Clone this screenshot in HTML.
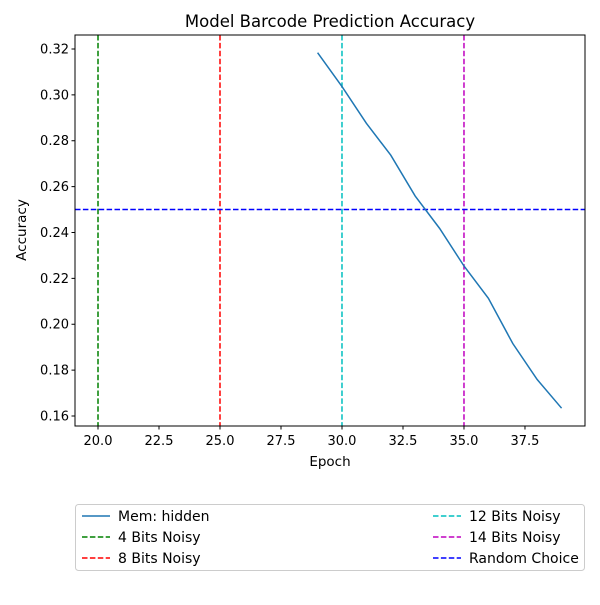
<!DOCTYPE html>
<html><head><meta charset="utf-8"><style>body{margin:0;background:#fff}svg{font-family:"DejaVu Sans","Liberation Sans",sans-serif}</style></head>
<body>
<svg id="chart" width="600" height="600" xmlns="http://www.w3.org/2000/svg"></svg>
<script>
const epochs=[29,30,31,32,33,34,35,36,37,38,39];
const accuracy=[0.3184,0.3036,0.2876,0.2737,0.2559,0.2418,0.2254,0.2113,0.1916,0.1759,0.1634];
const vlineX=[20,25,30,35];
const vlineColors=['#008000','#ff0000','#00bfbf','#bf00bf'];
const hlineY=0.25;
const xTicks=[20.0,22.5,25.0,27.5,30.0,32.5,35.0,37.5];
const yTicks=[0.16,0.18,0.20,0.22,0.24,0.26,0.28,0.30,0.32];
const legendLabels=['Mem: hidden','4 Bits Noisy','8 Bits Noisy','12 Bits Noisy','14 Bits Noisy','Random Choice'];
const legendColors=['#1f77b4','#008000','#ff0000','#00bfbf','#bf00bf','#0000ff'];

const L=75,R=585,T=35,B=426;
const xmin=19.057,xmax=39.96,ymin=0.15564,ymax=0.3261;
const sx=v=>L+(v-xmin)/(xmax-xmin)*(R-L);
const sy=v=>B-(v-ymin)/(ymax-ymin)*(B-T);
const svg=document.getElementById('chart');
const NS='http://www.w3.org/2000/svg';
function mk(tag,attrs,parent){const e=document.createElementNS(NS,tag);for(const k in attrs)e.setAttribute(k,attrs[k]);(parent||svg).appendChild(e);return e;}

mk('text',{x:330,y:27,'text-anchor':'middle','font-size':16.5,fill:'#000',}).textContent='Model Barcode Prediction Accuracy';

vlineX.forEach((v,i)=>{const l=mk('line',{x1:sx(v),x2:sx(v),y1:T,y2:B,stroke:vlineColors[i],'stroke-width':1.5,'stroke-dasharray':'5.5,2.4'});

});
const h=mk('line',{x1:L,x2:R,y1:sy(hlineY),y2:sy(hlineY),stroke:'#0000ff','stroke-width':1.5,'stroke-dasharray':'5.5,2.4'});



const p=mk('polyline',{points:epochs.map((e,i)=>sx(e)+','+sy(accuracy[i])).join(' '),fill:'none',stroke:'#1f77b4','stroke-width':1.5});



mk('rect',{x:L,y:T,width:R-L,height:B-T,fill:'none',stroke:'#000','stroke-width':1,});

xTicks.forEach(v=>{const x=sx(v);mk('line',{x1:x,x2:x,y1:B,y2:B+3.5,stroke:'#000'});
const t=mk('text',{x:x,y:B+19,'text-anchor':'middle','font-size':13,fill:'#000'});t.textContent=v.toFixed(1);

});
yTicks.forEach(v=>{const y=sy(v);mk('line',{x1:L-3.5,x2:L,y1:y,y2:y,stroke:'#000'});
const t=mk('text',{x:L-6,y:y+4.5,'text-anchor':'end','font-size':13,fill:'#000'});t.textContent=v.toFixed(2);

});

mk('text',{x:330,y:466,'text-anchor':'middle','font-size':13.5,fill:'#000',}).textContent='Epoch';
mk('text',{x:26,y:230,'text-anchor':'middle','font-size':13.5,fill:'#000',transform:'rotate(-90 26 230)',}).textContent='Accuracy';

const lg=mk('g',{});
mk('rect',{x:75.5,y:504.5,width:509,height:66,rx:3,fill:'#fff',stroke:'#ccc'},lg);
legendLabels.forEach((lab,i)=>{const col=i<3?0:1,row=i%3;const x0=col?433:82,y0=516+row*21;
const g=mk('g',{},lg);


const a={x1:x0,x2:x0+28,y1:y0,y2:y0,stroke:legendColors[i],'stroke-width':1.5};if(i>0)a['stroke-dasharray']='5.5,2.4';
mk('line',a,g);
mk('text',{x:x0+36,y:y0+5,'font-size':14,fill:'#000'},g).textContent=lab;});
</script>
</body></html>
